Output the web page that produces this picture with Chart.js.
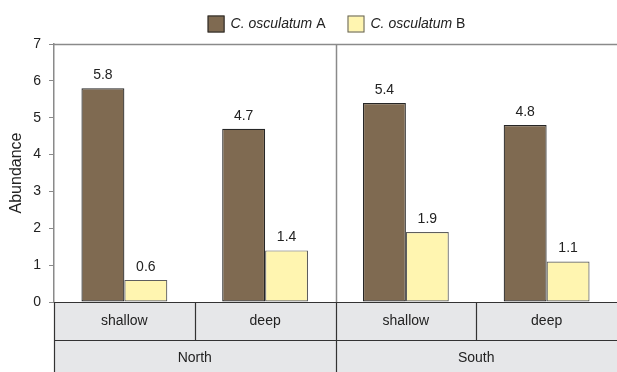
<!DOCTYPE html>
<html lang="en">
<head>
<meta charset="UTF-8">
<title>C. osculatum abundance</title>
<script src="https://cdn.jsdelivr.net/npm/chart.js"></script>
<style>
  html, body { margin: 0; padding: 0; background: #fff; }
  #wrap { width: 617px; height: 372px; }
</style>
</head>
<body>
<div id="wrap"><canvas id="chart"></canvas></div>
<script>
  const depths = ["shallow", "deep", "shallow", "deep"];
  const regions = ["North", "South"];
  const speciesName = "C. osculatum";
  const seriesNames = ["A", "B"];
  const valuesA = [5.8, 4.7, 5.4, 4.8];
  const valuesB = [0.6, 1.4, 1.9, 1.1];
  const yMax = 7;

  const FONT = 'Arial, "Liberation Sans", sans-serif';
  Chart.defaults.font.family = FONT;

  const fills = ["#7f6a51", "#fff5b0"];
  const borders = ["#262626", "#5e5e5e"];

  // top frame line + divider between regions inside the plot
  const framePlugin = {
    id: "frame",
    beforeDatasetsDraw(chart) {
      const { ctx, chartArea: a, scales: { x } } = chart;
      const step = x.getPixelForValue(1) - x.getPixelForValue(0);
      const per = depths.length / regions.length;
      ctx.save();
      ctx.strokeStyle = "#8a8a8a";
      ctx.lineWidth = 1.5;
      ctx.beginPath();
      ctx.moveTo(a.left, a.top + 0.5);
      ctx.lineTo(a.right, a.top + 0.5);
      for (let r = 1; r < regions.length; r++) {
        const bx = Math.round(x.getPixelForValue(r * per) - step / 2) + 0.5;
        ctx.moveTo(bx, a.top);
        ctx.lineTo(bx, a.bottom);
      }
      ctx.stroke();
      ctx.restore();
    }
  };

  // value labels above bars
  const valueLabels = {
    id: "valueLabels",
    afterDatasetsDraw(chart) {
      const { ctx } = chart;
      ctx.save();
      ctx.font = "14px " + FONT;
      ctx.fillStyle = "#222";
      ctx.textAlign = "center";
      ctx.textBaseline = "bottom";
      chart.data.datasets.forEach((ds, i) => {
        chart.getDatasetMeta(i).data.forEach((bar, j) => {
          ctx.fillText(ds.data[j].toFixed(1), bar.x, bar.y - 6);
        });
      });
      ctx.restore();
    }
  };

  // two-row category table under the plot
  const tablePlugin = {
    id: "groupTable",
    afterDraw(chart) {
      const { ctx, chartArea: a, scales: { x } } = chart;
      const step = x.getPixelForValue(1) - x.getPixelForValue(0);
      const rowH = 38;
      const y0 = a.bottom, y1 = a.bottom + rowH, y2 = chart.height;
      const per = depths.length / regions.length;
      ctx.save();
      ctx.fillStyle = "#e6e7e9";
      ctx.fillRect(a.left, y0, a.right - a.left, y2 - y0);
      ctx.strokeStyle = "#333";
      ctx.lineWidth = 1.2;
      ctx.beginPath();
      ctx.moveTo(a.left, Math.round(y0) + 0.5);
      ctx.lineTo(a.right, Math.round(y0) + 0.5);
      ctx.moveTo(a.left, Math.round(y1) + 0.5);
      ctx.lineTo(a.right, Math.round(y1) + 0.5);
      ctx.moveTo(Math.round(a.left) + 0.5, y0);
      ctx.lineTo(Math.round(a.left) + 0.5, y2);
      depths.forEach((d, i) => {
        if (i === 0) return;
        const bx = Math.round(x.getPixelForValue(i) - step / 2) + 0.5;
        ctx.moveTo(bx, y0);
        ctx.lineTo(bx, i % per === 0 ? y2 : y1);
      });
      ctx.stroke();

      ctx.fillStyle = "#222";
      ctx.font = "14px " + FONT;
      ctx.textAlign = "center";
      ctx.textBaseline = "middle";
      depths.forEach((d, i) => {
        ctx.fillText(d, x.getPixelForValue(i), (y0 + y1) / 2);
      });
      regions.forEach((r, k) => {
        const cx = (x.getPixelForValue(k * per) + x.getPixelForValue((k + 1) * per - 1)) / 2;
        ctx.fillText(r, cx, y1 + 18);
      });
      ctx.restore();
    }
  };

  // legend with italic species name
  const legendPlugin = {
    id: "mixedLegend",
    afterDraw(chart) {
      const { ctx, chartArea: a } = chart;
      const box = 17, gap = 6, itemGap = 22, cy = 24;
      ctx.save();
      const italic = "italic 14px " + FONT, normal = "14px " + FONT;
      const items = seriesNames.map(n => {
        ctx.font = italic;
        const w1 = ctx.measureText(speciesName + " ").width;
        ctx.font = normal;
        const w2 = ctx.measureText(n).width;
        return { n, w1, w2, w: box + gap + w1 + w2 };
      });
      const total = items.reduce((s, it) => s + it.w, 0) + itemGap * (items.length - 1);
      let xx = (a.left + a.right) / 2 - total / 2 + 1;
      ctx.textBaseline = "middle";
      items.forEach((it, i) => {
        ctx.fillStyle = fills[i];
        ctx.fillRect(xx, cy - box / 2, box, box);
        ctx.strokeStyle = borders[i];
        ctx.lineWidth = 1;
        ctx.strokeRect(xx + 0.5, cy - box / 2 + 0.5, box - 1, box - 1);
        ctx.fillStyle = "#222";
        ctx.font = italic;
        ctx.fillText(speciesName + " ", xx + box + gap, cy);
        ctx.font = normal;
        ctx.fillText(it.n, xx + box + gap + it.w1, cy);
        xx += it.w + itemGap;
      });
      ctx.restore();
    }
  };

  new Chart(document.getElementById("chart"), {
    type: "bar",
    data: {
      labels: depths,
      datasets: [
        { label: speciesName + " " + seriesNames[0], data: valuesA,
          backgroundColor: fills[0], borderColor: borders[0], borderWidth: 1.2, borderSkipped: false },
        { label: speciesName + " " + seriesNames[1], data: valuesB,
          backgroundColor: fills[1], borderColor: borders[1], borderWidth: 1.2, borderSkipped: false }
      ]
    },
    options: {
      responsive: true,
      maintainAspectRatio: false,
      animation: false,
      layout: { padding: { top: 44, bottom: 70, right: -4, left: 0 } },
      datasets: { bar: { categoryPercentage: 0.61, barPercentage: 1.0 } },
      plugins: { legend: { display: false }, tooltip: { enabled: false } },
      scales: {
        x: { display: false },
        y: {
          min: 0, max: yMax,
          afterFit(scale) { scale.width = 54; },
          ticks: { stepSize: 1, color: "#222", font: { size: 14 }, padding: 8 },
          grid: { drawOnChartArea: false, tickLength: 5, color: "#8a8a8a" },
          border: { color: "#8a8a8a", width: 1.5 },
          title: { display: true, text: "Abundance", color: "#222",
                   font: { size: 16 }, padding: { top: 7, bottom: 0 } }
        }
      }
    },
    plugins: [framePlugin, valueLabels, tablePlugin, legendPlugin]
  });
</script>
</body>
</html>
